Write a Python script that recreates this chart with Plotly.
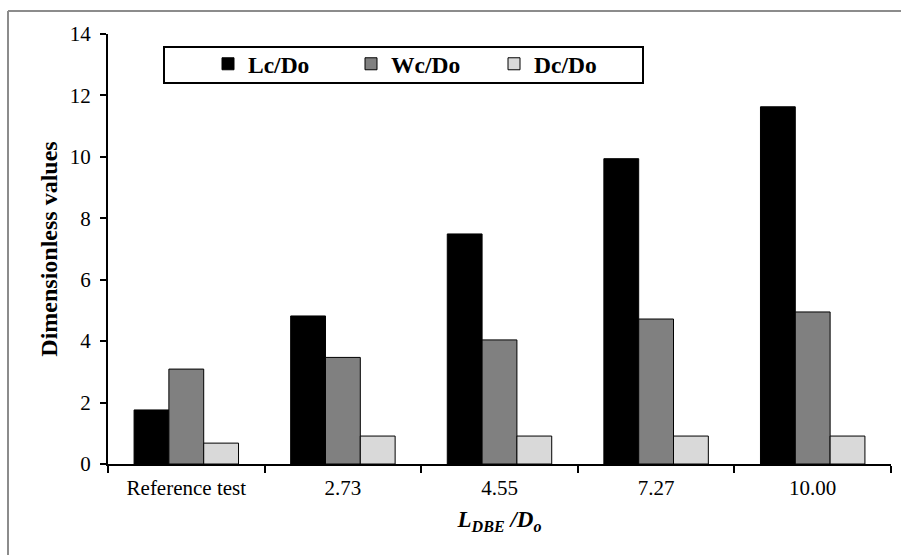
import plotly.graph_objects as go

categories = ["Reference test", "2.73", "4.55", "7.27", "10.00"]
lc_do = [1.76, 4.82, 7.49, 9.94, 11.63]
wc_do = [3.09, 3.47, 4.04, 4.72, 4.95]
dc_do = [0.68, 0.91, 0.91, 0.91, 0.91]

FONT = "Times New Roman, Liberation Serif, serif"

fig = go.Figure()
fig.add_bar(x=categories, y=lc_do, name="<b>Lc/Do</b>",
            marker=dict(color="#000000", line=dict(color="#000000", width=1)))
fig.add_bar(x=categories, y=wc_do, name="<b>Wc/Do</b>",
            marker=dict(color="#808080", line=dict(color="#000000", width=1)))
fig.add_bar(x=categories, y=dc_do, name="<b>Dc/Do</b>",
            marker=dict(color="#d9d9d9", line=dict(color="#000000", width=1)))

L, R, T, B = 108, 10, 34, 91
W, H = 901, 555
pw, ph = W - L - R, H - T - B

def px(x):
    return (x - L) / pw

def py(y):
    return (H - B - y) / ph

fig.update_layout(
    width=W, height=H,
    margin=dict(l=L, r=R, t=T, b=B, pad=0),
    paper_bgcolor="white", plot_bgcolor="white",
    barmode="group", bargap=0.333, bargroupgap=0,
    font=dict(family=FONT, size=21, color="black"),
    showlegend=True,
    legend=dict(orientation="h", x=px(208), y=py(42), xanchor="left", yanchor="top",
                borderwidth=0, bgcolor="rgba(0,0,0,0)",
                font=dict(family=FONT, size=23.5, color="black"),
                entrywidth=98, entrywidthmode="pixels", itemwidth=30,
                traceorder="normal"),
    xaxis=dict(showline=True, linecolor="black", linewidth=2,
               ticks="outside", tickson="boundaries", ticklen=7, tickwidth=2, tickcolor="black",
               tickfont=dict(family=FONT, size=21), ticklabelstandoff=4,
               title=dict(text="<b><i>L<sub>DBE</sub> /D<sub>o</sub></i></b>",
                          font=dict(family=FONT, size=23), standoff=12),
               showgrid=False, zeroline=False),
    yaxis=dict(range=[0, 14], dtick=2, showline=True, linecolor="black", linewidth=2,
               ticks="outside", ticklen=6, tickwidth=2, tickcolor="black",
               tickfont=dict(family=FONT, size=21), ticklabelstandoff=5,
               title=dict(text="<b>Dimensionless values</b>",
                          font=dict(family=FONT, size=24), standoff=5),
               showgrid=False, zeroline=False),
    shapes=[dict(type="line", xref="paper", yref="paper",
                 x0=px(8), x1=px(8), y0=py(555), y1=py(11),
                 line=dict(color="#8c8c8c", width=2), layer="below"),
            dict(type="line", xref="paper", yref="paper",
                 x0=px(8), x1=px(901), y0=py(11), y1=py(11),
                 line=dict(color="#8c8c8c", width=2), layer="below"),
            dict(type="rect", xref="paper", yref="paper",
                 x0=px(164), x1=px(643), y0=py(83), y1=py(47),
                 line=dict(color="black", width=2), fillcolor="white",
                 layer="below")],
)

fig.write_html("out.html", config={"displayModeBar": False})
